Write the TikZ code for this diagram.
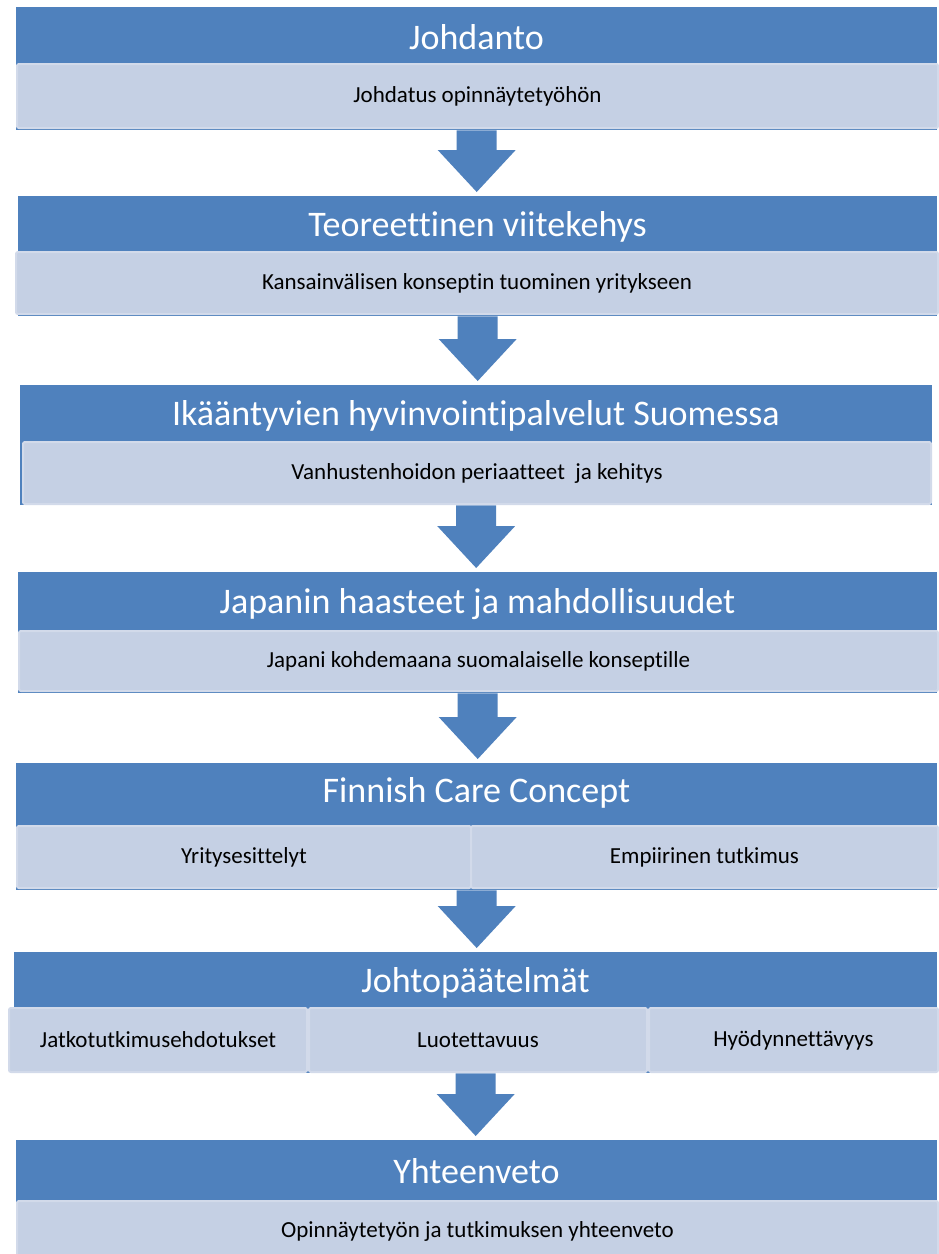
\documentclass[tikz,border=0pt]{standalone}
\usepackage{fontspec}
\setmainfont{Carlito}[Ligatures={NoCommon}]
\usetikzlibrary{calc}

\definecolor{hdblue}{RGB}{79,129,189}
\definecolor{subfill}{RGB}{197,208,228}
\definecolor{subedge}{RGB}{210,218,234}

\tikzset{
  band/.style={fill=hdblue, draw=none, inner sep=0pt, anchor=north west},
  title/.style={text=white, font=\fontsize{36}{40}\selectfont, inner sep=0pt},
  cell/.style={fill=subfill, draw=subedge, line width=2pt, rounded corners=2pt,
    inner sep=0pt, anchor=north west, font=\fontsize{23}{26}\selectfont, text=black},
}

% block arrow from the bottom of one band to the top of the next
\newcommand\blockarrow[2]{%
  \fill[hdblue] let \p1=(#1.south), \p2=(#2.north) in
    (\x1-20pt,\y1) -- (\x1+20pt,\y1) -- (\x1+20pt,\y2+46pt) -- (\x1+39pt,\y2+46pt)
    -- (\x1,\y2+4pt) -- (\x1-39pt,\y2+46pt) -- (\x1-20pt,\y2+46pt) -- cycle;}

\begin{document}
\begin{tikzpicture}[x=1pt,y=-1pt]
  \useasboundingbox[fill=white] (0,0) rectangle (939,1254);

  % section bands
  \node[band, minimum width=921pt, minimum height=123pt] (b1) at (16,7) {};
  \node[band, minimum width=919pt, minimum height=120pt] (b2) at (18,196) {};
  \node[band, minimum width=912pt, minimum height=120pt] (b3) at (20,385) {};
  \node[band, minimum width=919pt, minimum height=121pt] (b4) at (18,572) {};
  \node[band, minimum width=921pt, minimum height=127pt] (b5) at (16,763) {};
  \node[band, minimum width=923pt, minimum height=121pt] (b6) at (14,952) {};
  \node[band, minimum width=921pt, minimum height=118pt] (b7) at (16,1140) {};

  % arrows between sections
  \blockarrow{b1}{b2}
  \blockarrow{b2}{b3}
  \blockarrow{b3}{b4}
  \blockarrow{b4}{b5}
  \blockarrow{b5}{b6}
  \blockarrow{b6}{b7}

  % titles
  \node[title] (t1) at (476.5,37) {Johdanto};
  \node[title] (t2) at (477.5,227) {Teoreettinen viitekehys};
  \node[title] (t3) at (476,416) {Ikääntyvien hyvinvointipalvelut Suomessa};
  \node[title] (t4) at (477.5,604) {Japanin haasteet ja mahdollisuudet};
  \node[title] (t5) at (476.5,793) {Finnish Care Concept};
  \node[title] (t6) at (475.5,983) {Johtopäätelmät};
  \node[title] (t7) at (476.5,1171) {Yhteenveto};

  % content cells
  \node[cell, minimum width=921pt, minimum height=64pt] (c1) at (16,63) {Johdatus opinnäytetyöhön};
  \node[cell, minimum width=922pt, minimum height=62pt] (c2) at (15,251) {Kansainvälisen konseptin tuominen yritykseen};
  \node[cell, minimum width=908pt, minimum height=62pt] (c3) at (22,441) {Vanhustenhoidon periaatteet\ \ ja kehitys};
  \node[cell, minimum width=919pt, minimum height=60pt] (c4) at (18,630) {Japani kohdemaana suomalaiselle konseptille};
  \node[cell, minimum width=454pt, minimum height=62pt] (c5a) at (16,825) {Yritysesittelyt};
  \node[cell, minimum width=467pt, minimum height=62pt] (c5b) at (470,825) {Empiirinen tutkimus};
  \node[cell, minimum width=298pt, minimum height=64pt] (c6a) at (8,1007) {Jatkotutkimusehdotukset};
  \node[cell, minimum width=338pt, minimum height=64pt] (c6b) at (308,1007) {Luotettavuus};
  \node[cell, minimum width=289pt, minimum height=64pt] (c6c) at (648,1007) {Hyödynnettävyys};
  \node[cell, minimum width=921pt, minimum height=60pt] (c7) at (16,1200) {Opinnäytetyön ja tutkimuksen yhteenveto};
\end{tikzpicture}
\end{document}
